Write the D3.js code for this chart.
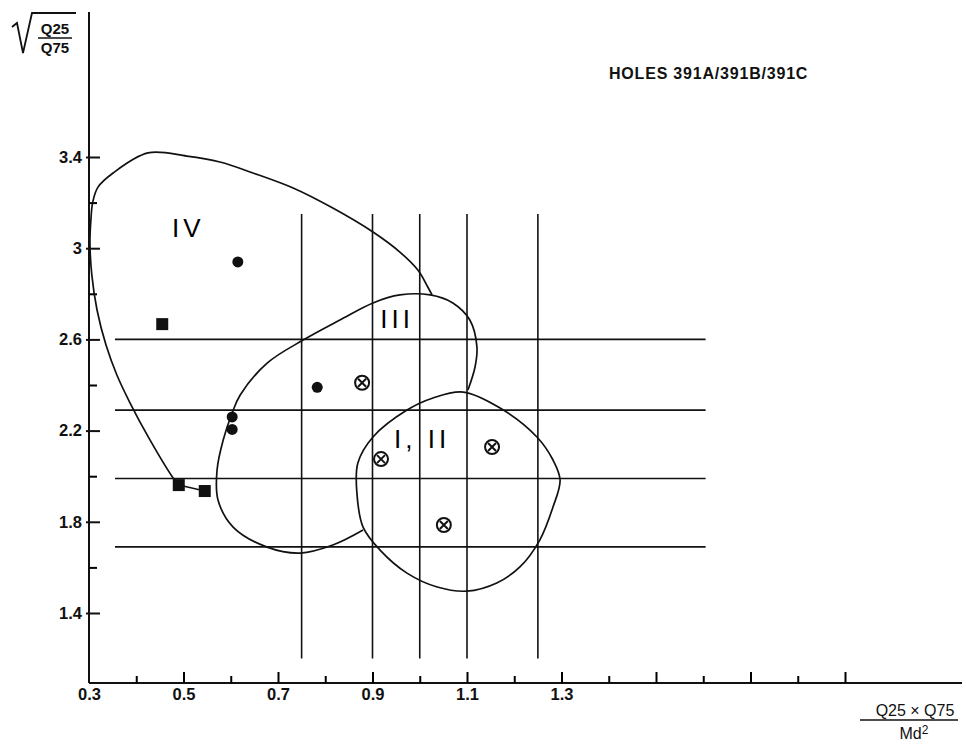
<!DOCTYPE html>
<html>
<head>
<meta charset="utf-8">
<script src="https://cdn.jsdelivr.net/npm/d3@7"></script>
<style>
  body { margin: 0; background: #fff; }
  svg { display: block; }
  .tick text { font-family: "Liberation Sans", Arial, sans-serif; font-weight: bold; }
</style>
</head>
<body>
<div id="chart"></div>
<script>
// ---- data (x = Q25*Q75/Md^2, y = sqrt(Q25/Q75)) ----
var xLabelTicks = [0.3, 0.5, 0.7, 0.9, 1.1, 1.3];
var xMinorTicks = [0.4, 0.5, 0.6, 0.7, 0.8, 0.9, 1.0, 1.1, 1.2, 1.3, 1.4, 1.5, 1.6, 1.7, 1.8, 1.9];
var yLabelTicks = [1.4, 1.8, 2.2, 2.6, 3, 3.4];
var yMinorTicks = [1.6, 2.0, 2.4, 2.8, 3.2];

var hLines = [2.6, 2.29, 1.99, 1.69];          // horizontal reference lines
var hLineExtent = [0.355, 1.605];
var vLines = [0.75, 0.9, 1.0, 1.1, 1.25];      // vertical reference lines
var vLineExtent = [1.2, 3.15];

var filledCircles = [[0.615, 2.94], [0.783, 2.39], [0.603, 2.26], [0.603, 2.205]];
var squares = [[0.455, 2.667], [0.49, 1.961], [0.545, 1.935]];
var crossedCircles = [[0.878, 2.41], [0.918, 2.075], [1.153, 2.128], [1.051, 1.786]];

// field IV: open curve from the junction with III, over the top, down the left side
var fieldIV = [[1.026, 2.795], [1.017, 2.83], [0.996, 2.904], [0.958, 2.983], [0.901, 3.071],
  [0.816, 3.176], [0.732, 3.264], [0.647, 3.33], [0.577, 3.378], [0.507, 3.404], [0.425, 3.418],
  [0.351, 3.33], [0.319, 3.268], [0.308, 3.203], [0.304, 3.124], [0.302, 3.023], [0.306, 2.882],
  [0.317, 2.729], [0.336, 2.575], [0.359, 2.444], [0.387, 2.321], [0.429, 2.159], [0.478, 1.992],
  [0.49, 1.961]];
var fieldIVTail = [[0.49, 1.961], [0.545, 1.935]];

// field III: open curve from the lower junction with I,II round to the upper one
var fieldIII = [[0.88, 1.764], [0.816, 1.698], [0.747, 1.663], [0.677, 1.689], [0.605, 1.777],
  [0.573, 1.896], [0.571, 2.027], [0.584, 2.159], [0.603, 2.277], [0.62, 2.356], [0.677, 2.496],
  [0.753, 2.597], [0.831, 2.685], [0.901, 2.76], [0.958, 2.795], [1.022, 2.795], [1.07, 2.76],
  [1.106, 2.685], [1.121, 2.567], [1.117, 2.479], [1.102, 2.378]];

// field I,II: closed curve
var fieldI_II = [[1.092, 2.369], [1.17, 2.299], [1.248, 2.172], [1.282, 2.071], [1.297, 1.983],
  [1.282, 1.865], [1.254, 1.72], [1.212, 1.602], [1.163, 1.532], [1.1, 1.496], [1.037, 1.514],
  [0.973, 1.575], [0.916, 1.676], [0.88, 1.777], [0.867, 1.926], [0.869, 2.058], [0.901, 2.172],
  [0.973, 2.29], [1.028, 2.343]];

var fieldLabels = [
  { text: "IV", x: 0.51, y: 3.05 },
  { text: "III", x: 0.952, y: 2.65 },
  { text: "I, II", x: 1.005, y: 2.125 }
];
var title = "HOLES 391A/391B/391C";

// ---- chart ----
var width = 966, height = 744;
var svg = d3.select("#chart").append("svg")
  .attr("width", width).attr("height", height);

var x = d3.scaleLinear().domain([0.3, 1.3]).range([89, 561.5]);
var y = d3.scaleLinear().domain([1.4, 3.4]).range([613, 157]);
var axisY = 683, axisTop = 12, axisRight = 962;

var ink = "#111";
var sans = "'Liberation Sans', Arial, sans-serif";

// axes
svg.append("line").attr("x1", x(0.3)).attr("x2", axisRight)
  .attr("y1", axisY).attr("y2", axisY).attr("stroke", ink).attr("stroke-width", 2);
svg.append("line").attr("x1", x(0.3)).attr("x2", x(0.3))
  .attr("y1", axisTop).attr("y2", axisY).attr("stroke", ink).attr("stroke-width", 2);

var xMinor = svg.append("g").attr("transform", "translate(0," + axisY + ")")
  .call(d3.axisBottom(x).tickValues(xMinorTicks).tickSizeInner(-8).tickSizeOuter(0).tickFormat(""));
xMinor.selectAll(".tick line").attr("stroke-width", 2)
  .attr("y2", function(d){ return Math.round(d * 10) % 2 === 1 ? -11 : -7; });
var xMajor = svg.append("g").attr("transform", "translate(0," + axisY + ")")
  .call(d3.axisBottom(x).tickValues(xLabelTicks).tickSize(0).tickPadding(5)
    .tickFormat(function(d){ return d3.format(".1f")(d); }));
xMajor.selectAll(".tick text").style("font-size", "16.5px").attr("fill", ink);

var yMinor = svg.append("g").attr("transform", "translate(" + x(0.3) + ",0)")
  .call(d3.axisRight(y).tickValues(yMinorTicks).tickSizeInner(8).tickSizeOuter(0).tickFormat(""));
yMinor.selectAll(".tick line").attr("stroke-width", 2);
var yMajor = svg.append("g").attr("transform", "translate(" + x(0.3) + ",0)")
  .call(d3.axisLeft(y).tickValues(yLabelTicks).tickSizeInner(0).tickSizeOuter(0).tickPadding(7)
    .tickFormat(function(d){ return String(d); }));
yMajor.selectAll(".tick line").attr("x1", -3).attr("x2", 11).attr("stroke-width", 2).attr("stroke", ink);
yMajor.selectAll(".tick text").style("font-size", "16.5px").attr("fill", ink);
svg.selectAll(".domain").remove();

// reference grid
svg.append("g").selectAll("line").data(hLines).enter().append("line")
  .attr("x1", x(hLineExtent[0])).attr("x2", x(hLineExtent[1]))
  .attr("y1", function(d){ return y(d); }).attr("y2", function(d){ return y(d); })
  .attr("stroke", ink).attr("stroke-width", 1.6);
svg.append("g").selectAll("line").data(vLines).enter().append("line")
  .attr("x1", function(d){ return x(d); }).attr("x2", function(d){ return x(d); })
  .attr("y1", y(vLineExtent[1])).attr("y2", y(vLineExtent[0]))
  .attr("stroke", ink).attr("stroke-width", 1.6);

// field outlines
var openLine = d3.line().x(function(d){ return x(d[0]); }).y(function(d){ return y(d[1]); })
  .curve(d3.curveCatmullRom.alpha(0.5));
var closedLine = d3.line().x(function(d){ return x(d[0]); }).y(function(d){ return y(d[1]); })
  .curve(d3.curveCatmullRomClosed.alpha(0.5));
var straight = d3.line().x(function(d){ return x(d[0]); }).y(function(d){ return y(d[1]); });

[fieldIV, fieldIII].forEach(function(f){
  svg.append("path").attr("d", openLine(f)).attr("fill", "none")
    .attr("stroke", ink).attr("stroke-width", 1.7);
});
svg.append("path").attr("d", straight(fieldIVTail)).attr("fill", "none")
  .attr("stroke", ink).attr("stroke-width", 1.5);
svg.append("path").attr("d", closedLine(fieldI_II)).attr("fill", "none")
  .attr("stroke", ink).attr("stroke-width", 1.7);

// markers
svg.append("g").selectAll("circle").data(filledCircles).enter().append("circle")
  .attr("cx", function(d){ return x(d[0]); }).attr("cy", function(d){ return y(d[1]); })
  .attr("r", 5.5).attr("fill", ink);
svg.append("g").selectAll("rect").data(squares).enter().append("rect")
  .attr("x", function(d){ return x(d[0]) - 6; }).attr("y", function(d){ return y(d[1]) - 6; })
  .attr("width", 12).attr("height", 12).attr("fill", ink);
var cc = svg.append("g").selectAll("g").data(crossedCircles).enter().append("g")
  .attr("transform", function(d){ return "translate(" + x(d[0]) + "," + y(d[1]) + ")"; });
cc.append("circle").attr("r", 7).attr("fill", "#fff").attr("stroke", ink).attr("stroke-width", 2);
cc.append("path").attr("d", "M-4,-4L4,4M4,-4L-4,4").attr("stroke", ink).attr("stroke-width", 2);

// field labels
svg.append("g").selectAll("text").data(fieldLabels).enter().append("text")
  .attr("x", function(d){ return x(d.x); }).attr("y", function(d){ return y(d.y); })
  .attr("text-anchor", "middle")
  .style("font-family", sans).style("font-weight", "normal")
  .style("font-size", "26px").style("letter-spacing", "4px").attr("fill", "#000")
  .text(function(d){ return d.text; });

// title
svg.append("text").attr("x", 609).attr("y", 79)
  .style("font-family", sans).style("font-weight", "bold")
  .style("font-size", "16px").style("letter-spacing", "0.8px").attr("fill", ink)
  .text(title);

// y axis label: sqrt(Q25/Q75)
var yl = svg.append("g");
yl.append("path").attr("d", "M12,27L17,23L23,53L32,13L76,13")
  .attr("fill", "none").attr("stroke", ink).attr("stroke-width", 1.8);
yl.append("text").attr("x", 55).attr("y", 34).attr("text-anchor", "middle")
  .style("font-family", sans).style("font-weight", "bold")
  .style("font-size", "15px").attr("fill", ink).text("Q25");
yl.append("line").attr("x1", 38).attr("x2", 72).attr("y1", 38).attr("y2", 38)
  .attr("stroke", ink).attr("stroke-width", 1.5);
yl.append("text").attr("x", 55).attr("y", 53).attr("text-anchor", "middle")
  .style("font-family", sans).style("font-weight", "bold")
  .style("font-size", "15px").attr("fill", ink).text("Q75");

// x axis label: Q25 x Q75 / Md^2
var xl = svg.append("g");
xl.append("text").attr("x", 915).attr("y", 716).attr("text-anchor", "middle")
  .style("font-family", sans).style("font-size", "16px")
  .attr("fill", ink).text("Q25 \u00d7 Q75");
xl.append("line").attr("x1", 860).attr("x2", 958).attr("y1", 720).attr("y2", 720)
  .attr("stroke", ink).attr("stroke-width", 1.5);
var md = xl.append("text").attr("x", 914).attr("y", 739).attr("text-anchor", "middle")
  .style("font-family", sans).style("font-size", "16px")
  .attr("fill", ink);
md.append("tspan").text("Md");
md.append("tspan").attr("dy", -5).style("font-size", "12px").text("2");
</script>
</body>
</html>
